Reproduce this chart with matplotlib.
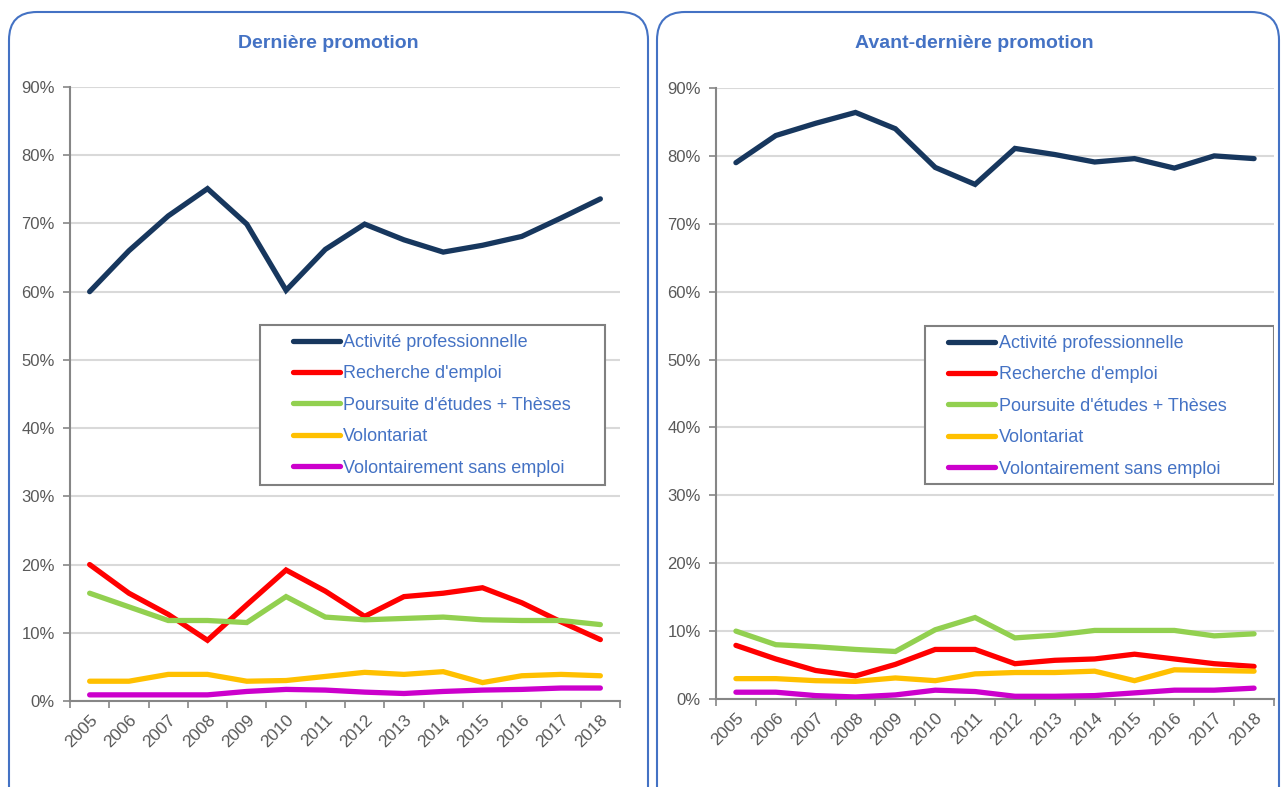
import matplotlib
matplotlib.use("Agg")
import matplotlib.pyplot as plt
import matplotlib.ticker as ticker
from matplotlib.patches import FancyBboxPatch, Rectangle
from matplotlib import font_manager


years = [str(y) for y in range(2005, 2019)]

# Dernière promotion (%)
last_activite = [60.0, 66.0, 71.1, 75.1, 69.9, 60.2, 66.2, 69.9, 67.6, 65.8, 66.8, 68.1, 70.8, 73.6]
last_recherche = [20.0, 15.8, 12.7, 8.9, 14.1, 19.2, 16.1, 12.4, 15.3, 15.8, 16.6, 14.4, 11.6, 9.0]
last_poursuite = [15.8, 13.8, 11.8, 11.8, 11.5, 15.3, 12.3, 11.9, 12.1, 12.3, 11.9, 11.8, 11.8, 11.2]
last_volontariat = [2.9, 2.9, 3.9, 3.9, 2.9, 3.0, 3.6, 4.2, 3.9, 4.3, 2.7, 3.7, 3.9, 3.7]
last_sans_emploi = [0.9, 0.9, 0.9, 0.9, 1.4, 1.7, 1.6, 1.3, 1.1, 1.4, 1.6, 1.7, 1.9, 1.9]

# Avant-dernière promotion (%)
prev_activite = [79.0, 83.0, 84.8, 86.4, 84.0, 78.3, 75.8, 81.1, 80.2, 79.1, 79.6, 78.2, 80.0, 79.6]
prev_recherche = [7.9, 5.9, 4.2, 3.4, 5.1, 7.3, 7.3, 5.2, 5.7, 5.9, 6.6, 5.9, 5.2, 4.8]
prev_poursuite = [10.0, 8.0, 7.7, 7.3, 7.0, 10.2, 12.0, 9.0, 9.4, 10.1, 10.1, 10.1, 9.3, 9.6]
prev_volontariat = [3.0, 3.0, 2.7, 2.6, 3.1, 2.7, 3.7, 3.9, 3.9, 4.1, 2.7, 4.3, 4.2, 4.1]
prev_sans_emploi = [1.0, 1.0, 0.5, 0.3, 0.6, 1.3, 1.1, 0.4, 0.4, 0.5, 0.9, 1.3, 1.3, 1.6]

labels = ["Activité professionnelle", "Recherche d'emploi", "Poursuite d'études + Thèses",
          "Volontariat", "Volontairement sans emploi"]
colors = ["#17375E", "#FF0000", "#92D050", "#FFC000", "#CC00CC"]
titles = ["Dernière promotion", "Avant-dernière promotion"]

blue = "#4472C4"
grey_txt = "#595959"
grey_axis = "#868686"

names = {f.name for f in font_manager.fontManager.ttflist}
if "Liberation Sans Narrow" in names:
    title_font, title_size = "Liberation Sans Narrow", 17
else:
    title_font, title_size = "Liberation Sans", 14
plt.rcParams["font.family"] = ["Liberation Sans", "DejaVu Sans"]

fig = plt.figure(figsize=(12.82, 7.87), dpi=100)

# rounded panel borders (inches)
for x0, x1 in [(0.09, 6.48), (6.57, 12.79)]:
    fig.add_artist(FancyBboxPatch((x0, -0.6), x1 - x0, 7.75 + 0.6,
                                  boxstyle="round,pad=0,rounding_size=0.28",
                                  transform=fig.dpi_scale_trans, fill=False,
                                  edgecolor=blue, linewidth=1.5))

axes_pos = [[70 / 1282, 1 - 701 / 787, 550 / 1282, 614 / 787],
            [716 / 1282, 1 - 699 / 787, 558 / 1282, 611 / 787]]
title_x = [328 / 1282, 974 / 1282]
datasets = [
    [last_activite, last_recherche, last_poursuite, last_volontariat, last_sans_emploi],
    [prev_activite, prev_recherche, prev_poursuite, prev_volontariat, prev_sans_emploi],
]
# legend frame (axes fraction) and offset of the first handle inside it
legend_box = [(0.345, 0.352, 0.628, 0.261), (0.375, 0.352, 0.625, 0.259)]
legend_inset = [0.060, 0.041]

for i in range(2):
    ax = fig.add_axes(axes_pos[i])
    x = list(range(len(years)))
    handles = []
    for series, lab, col in zip(datasets[i], labels, colors):
        h, = ax.plot(x, series, color=col, linewidth=3.8, label=lab,
                     solid_capstyle="round", solid_joinstyle="miter", zorder=3)
        handles.append(h)

    ax.set_xlim(-0.5, len(years) - 0.5)
    ax.set_ylim(0, 90)
    ax.yaxis.set_major_locator(ticker.MultipleLocator(10))
    ax.yaxis.set_major_formatter(ticker.FuncFormatter(lambda v, _: f"{v:.0f}%"))
    ax.grid(axis="y", color="#D9D9D9", linewidth=1.5, zorder=0)
    ax.set_axisbelow(True)

    ax.set_xticks([k - 0.5 for k in range(len(years) + 1)])
    ax.set_xticklabels([])
    ax.set_xticks(x, minor=True)
    ax.set_xticklabels(years, minor=True, rotation=45, ha="right",
                       rotation_mode="anchor", fontsize=12.5, color=grey_txt)
    ax.tick_params(axis="x", which="major", length=5, width=1.2, color=grey_axis, direction="out")
    ax.tick_params(axis="x", which="minor", length=0, pad=8)
    ax.tick_params(axis="y", length=5, width=1.2, color=grey_axis, labelsize=12,
                   labelcolor=grey_txt, pad=6)

    for s in ["top", "right"]:
        ax.spines[s].set_visible(False)
    for s in ["left", "bottom"]:
        ax.spines[s].set_color(grey_axis)
        ax.spines[s].set_linewidth(1.5)

    bx, by, bw, bh = legend_box[i]
    ax.add_patch(Rectangle((bx, by), bw, bh, transform=ax.transAxes, facecolor="white",
                           edgecolor="#808080", linewidth=1.5, zorder=4))
    leg = ax.legend(handles=handles, loc="upper left",
                    bbox_to_anchor=(bx + legend_inset[i], by + bh - 0.015),
                    frameon=False, fontsize=13, handlelength=2.6, handletextpad=0.2,
                    labelspacing=0.8, borderpad=0, borderaxespad=0)
    leg.set_zorder(5)
    for t in leg.get_texts():
        t.set_color(blue)

    fig.text(title_x[i], 1 - 43 / 787, titles[i], ha="center", va="center",
             fontsize=title_size, fontweight="bold", color=blue, family=title_font)

fig.savefig("out.png", dpi=100)
